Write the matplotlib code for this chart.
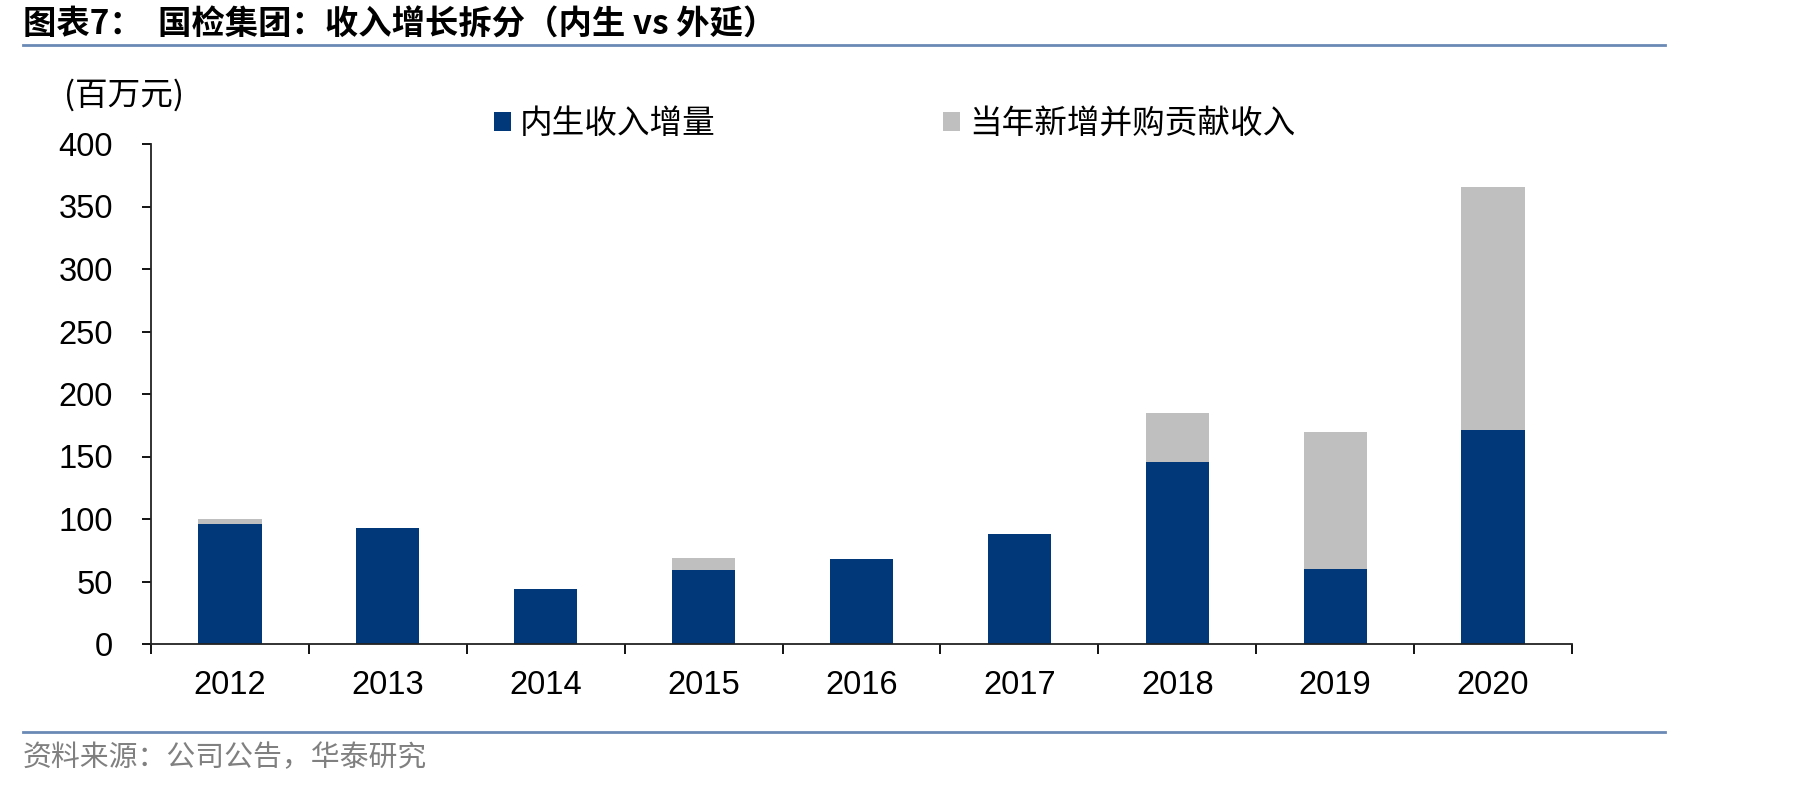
import matplotlib
matplotlib.use("Agg")
import matplotlib.pyplot as plt
import numpy as np

years = ["2012", "2013", "2014", "2015", "2016", "2017", "2018", "2019", "2020"]
organic = [96, 93, 44, 59, 68, 88, 146, 60, 171]
acquired = [4, 0, 0, 10, 0, 0, 39, 110, 195]
yticks = [0, 50, 100, 150, 200, 250, 300, 350, 400]

title = "图表7：  国检集团：收入增长拆分（内生 vs 外延）"
unit = "(百万元)"
legend_labels = ["内生收入增量", "当年新增并购贡献收入"]
source = "资料来源：公司公告，华泰研究"

BLUE = "#00387A"
GRAY = "#BFBFBF"
LINE = "#6A8AB5"
CJK = ["Noto Sans CJK SC", "DejaVu Sans"]
LAT = ["Liberation Sans", "DejaVu Sans"]

W, H = 1819, 786
fig = plt.figure(figsize=(W / 100, H / 100), dpi=100)

ax = fig.add_axes([151 / W, 1 - 644 / H, (1572 - 151) / W, (644 - 144) / H])
x = np.arange(len(years))
b1 = ax.bar(x, organic, width=0.4, color=BLUE, zorder=2)
b2 = ax.bar(x, acquired, width=0.4, bottom=organic, color=GRAY, zorder=2)

ax.set_xlim(-0.5, len(years) - 0.5)
ax.set_ylim(0, 400)
ax.set_yticks(yticks)
ax.set_yticklabels([str(v) for v in yticks], fontfamily=LAT, fontsize=23.5)
ax.set_xticks(np.arange(-0.5, len(years), 1.0))
ax.set_xticklabels([])
ax.set_xticks(x, minor=True)
ax.set_xticklabels(years, minor=True, fontfamily=LAT, fontsize=23.5)
ax.tick_params(axis="x", which="major", direction="out", length=7, width=1.3)
ax.tick_params(axis="x", which="minor", length=0, pad=19)
ax.tick_params(axis="y", direction="out", length=6.5, width=1.3, pad=21)
for s in ["top", "right"]:
    ax.spines[s].set_visible(False)
for s in ["left", "bottom"]:
    ax.spines[s].set_linewidth(1.3)
    ax.spines[s].set_color("#222222")

# title and rules
fig.text(23 / W, 1 - 25 / H, title, fontfamily=CJK, fontsize=24, fontweight="bold",
         va="center", ha="left")
fig.add_artist(plt.Line2D([23 / W, 1665 / W], [1 - 45 / H, 1 - 45 / H], color=LINE, lw=2))
fig.add_artist(plt.Line2D([23 / W, 1665 / W], [1 - 732 / H, 1 - 732 / H], color=LINE, lw=2))
fig.text(23 / W, 1 - 758 / H, source, fontfamily=CJK, fontsize=20.8, color="#808080",
         va="center", ha="left")

# unit label
fig.text(64 / W, 1 - 95 / H, unit, fontfamily=CJK, fontsize=23.5, va="center", ha="left")

# legend
ax.legend([b1, b2], legend_labels, loc="center left", bbox_to_anchor=(494 / W, 1 - 124 / H),
          bbox_transform=fig.transFigure, ncol=2, frameon=False,
          prop={"family": CJK, "size": 23.5}, handlelength=0.52, handleheight=0.52,
          handletextpad=0.28, columnspacing=6.96, borderaxespad=0, borderpad=0)

fig.savefig("out.png", dpi=100)
